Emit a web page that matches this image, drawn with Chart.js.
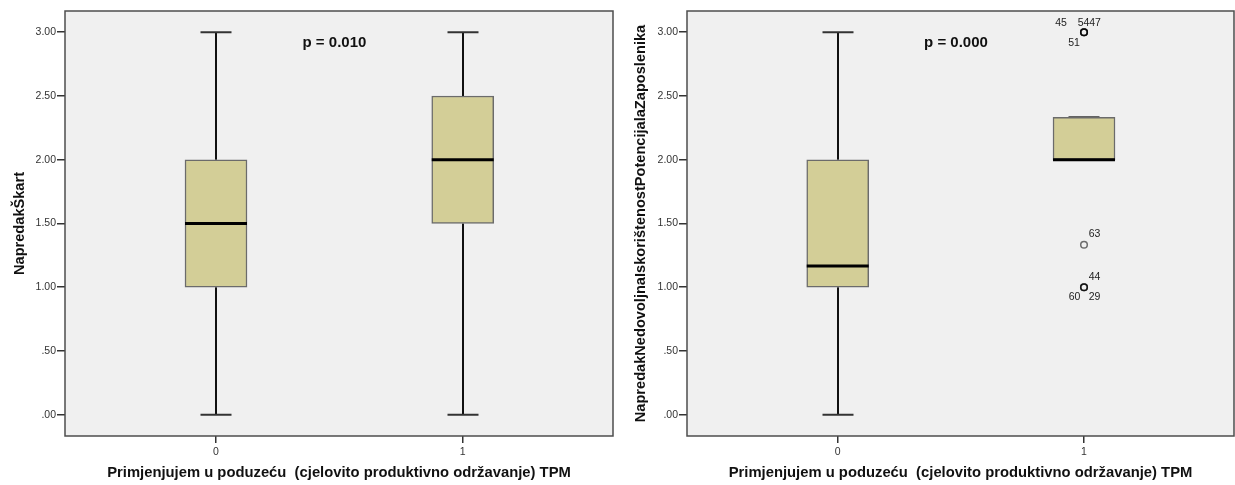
<!DOCTYPE html>
<html>
<head>
<meta charset="utf-8">
<script src="https://cdn.jsdelivr.net/npm/chart.js@4.4.0/dist/chart.umd.min.js"></script>
<style>
  html, body { margin: 0; padding: 0; background: #fff; overflow: hidden; }
  #wrap { position: relative; width: 1235px; height: 485px; }
  canvas { position: absolute; top: 0; }
  #c1 { left: 0; }
  #c2 { left: 621px; }
</style>
</head>
<body>
<div id="wrap">
  <canvas id="c1" width="620" height="485"></canvas>
  <canvas id="c2" width="614" height="485"></canvas>
</div>
<script>
// groups on the x axis
const categories = [0, 1];
const xTickLabels = ['0', '1'];
const yTickValues = [0, 0.5, 1, 1.5, 2, 2.5, 3];
const yTickLabels = ['.00', '.50', '1.00', '1.50', '2.00', '2.50', '3.00'];

const xTitle = 'Primjenjujem u poduzeću  (cjelovito produktivno održavanje) TPM';

// left chart: NapredakŠkart
const skartMin = [0, 0];
const skartQ1 = [1, 1.5];
const skartMedian = [1.5, 2];
const skartQ3 = [2, 2.5];
const skartMax = [3, 3];
const skartP = 'p = 0.010';

// right chart: NapredakNedovoljnaIskorištenostPotencijalaZaposlenika
const potMin = [0, 2];
const potQ1 = [1, 2];
const potMedian = [1.1667, 2];
const potQ3 = [2, 2.3333];
const potMax = [3, 2.3333];
const potP = 'p = 0.000';

// outlying cases (group 1)
const potOutlierCase = ['45', '54', '47', '51', '63', '44', '60', '29'];
const potOutlierGroup = [1, 1, 1, 1, 1, 1, 1, 1];
const potOutlierValue = [3, 3, 3, 3, 1.3333, 1, 1, 1];

Chart.defaults.font.family = 'Arial, "Liberation Sans", sans-serif';

// where the case numbers sit next to their circle (px)
const caseLabelOffset = {
  '45': [-23, -9.5], '54': [-0.5, -9.5], '47': [11, -9.5], '51': [-10, 10.5],
  '63': [10.5, -10.5], '44': [10.5, -10], '60': [-9.5, 10], '29': [10.5, 10]
};

const boxParts = {
  id: 'boxParts',
  beforeDraw(chart) {
    const {ctx, chartArea: a} = chart;
    ctx.save();
    ctx.fillStyle = '#f0f0f0';
    ctx.fillRect(a.left, a.top, a.width, a.height);
    ctx.restore();
  },
  beforeDatasetsDraw(chart, args, opts) {
    const {ctx, scales: {x, y}} = chart;
    const s = opts.stats;
    ctx.save();
    ctx.strokeStyle = '#111';
    ctx.lineWidth = 2;
    categories.forEach((c, i) => {
      const px = Math.round(x.getPixelForValue(c));
      const lines = [[s.max[i], s.q3[i]], [s.q1[i], s.min[i]]];
      lines.forEach(([a, b]) => {
        if (a === b) return;
        ctx.beginPath();
        ctx.moveTo(px, y.getPixelForValue(a));
        ctx.lineTo(px, y.getPixelForValue(b));
        ctx.stroke();
      });
      ctx.strokeStyle = '#333';
      [s.max[i], s.min[i]].forEach(v => {
        const py = y.getPixelForValue(v);
        ctx.beginPath();
        ctx.moveTo(px - 15.5, py);
        ctx.lineTo(px + 15.5, py);
        ctx.stroke();
      });
      ctx.strokeStyle = '#111';
    });
    ctx.restore();
  },
  afterDatasetsDraw(chart, args, opts) {
    const {ctx, scales: {x, y}} = chart;
    const s = opts.stats;
    ctx.save();
    ctx.strokeStyle = '#000';
    ctx.lineWidth = 3;
    categories.forEach((c, i) => {
      const px = x.getPixelForValue(c);
      const py = y.getPixelForValue(s.median[i]);
      ctx.beginPath();
      ctx.moveTo(px - 31, py);
      ctx.lineTo(px + 31, py);
      ctx.stroke();
    });
    ctx.restore();
  },
  afterDraw(chart, args, opts) {
    const {ctx, chartArea: a, scales: {x, y}} = chart;
    ctx.save();
    ctx.strokeStyle = '#4d4d4d';
    ctx.lineWidth = 1.5;
    ctx.strokeRect(a.left, a.top, a.width, a.height);

    ctx.fillStyle = '#111';
    ctx.font = 'bold 15px Arial, "Liberation Sans", sans-serif';
    ctx.textAlign = 'center';
    ctx.textBaseline = 'middle';
    ctx.fillText(opts.pText, x.getPixelForValue(0.48), y.getPixelForValue(2.92));

    if (opts.cases) {
      ctx.font = '10.5px Arial, "Liberation Sans", sans-serif';
      ctx.fillStyle = '#222';
      opts.cases.forEach((id, i) => {
        const off = caseLabelOffset[id] || [10, -10];
        const px = x.getPixelForValue(opts.caseGroup[i]);
        const py = y.getPixelForValue(opts.caseValue[i]);
        ctx.fillText(id, px + off[0], py + off[1]);
      });
    }
    ctx.restore();
  }
};

function makeChart(id, yTitle, stats, pText, outliers) {
  const datasets = [{
    type: 'bar',
    data: categories.map((c, i) => ({x: c, y: [stats.q1[i], stats.q3[i]]})),
    backgroundColor: '#d3ce97',
    borderColor: '#6b6b6b',
    borderWidth: 1.5,
    borderSkipped: false,
    barThickness: 62,
    grouped: false
  }];
  if (outliers) {
    datasets.push({
      type: 'scatter',
      data: outliers.cases.map((k, i) => ({x: outliers.group[i], y: outliers.value[i]})),
      pointRadius: 3.3,
      pointBorderWidth: 1.5,
      borderColor: 'rgba(0,0,0,0.55)',
      backgroundColor: 'rgba(0,0,0,0)'
    });
  }
  const tickFont = {size: 10.5};
  return new Chart(document.getElementById(id), {
    type: 'bar',
    data: {datasets: datasets},
    options: {
      responsive: false,
      animation: false,
      events: [],
      layout: {autoPadding: false, padding: {top: 11, right: id === 'c1' ? 7 : 1, left: 0, bottom: 0}},
      plugins: {
        legend: {display: false},
        tooltip: {enabled: false},
        boxParts: {
          stats: stats,
          pText: pText,
          cases: outliers ? outliers.cases : null,
          caseGroup: outliers ? outliers.group : null,
          caseValue: outliers ? outliers.value : null
        }
      },
      scales: {
        x: {
          type: 'linear',
          min: -0.612,
          max: 1.609,
          offset: false,
          afterBuildTicks: s => { s.ticks = categories.map(v => ({value: v})); },
          afterFit: s => { s.height = 49; },
          ticks: {
            callback: (v, i) => xTickLabels[i],
            font: tickFont, color: '#333', padding: 3,
            maxRotation: 0, autoSkip: false
          },
          grid: {offset: false, drawOnChartArea: false, drawTicks: true, tickLength: 7, color: '#333', lineWidth: 1.5},
          border: {display: false},
          title: {
            display: true, text: xTitle, color: '#111',
            font: {size: 14.8, weight: 'bold'},
            padding: {top: 0, bottom: 3.6}
          }
        },
        y: {
          type: 'linear',
          min: -1 / 6,
          max: 3 + 1 / 6,
          afterBuildTicks: s => { s.ticks = yTickValues.map(v => ({value: v})); },
          afterFit: s => { s.width = id === 'c1' ? 65 : 66; },
          ticks: {
            callback: (v, i) => yTickLabels[i],
            font: tickFont, color: '#333', padding: 1
          },
          grid: {drawOnChartArea: false, drawTicks: true, tickLength: 8, color: '#333', lineWidth: 1.5},
          border: {display: false},
          title: {
            display: true, text: yTitle, color: '#111',
            font: {size: 14.6, weight: 'bold'},
            padding: {top: 11.2, bottom: 0}
          }
        }
      }
    },
    plugins: [boxParts]
  });
}

makeChart('c1', 'NapredakŠkart',
  {min: skartMin, q1: skartQ1, median: skartMedian, q3: skartQ3, max: skartMax},
  skartP, null);

makeChart('c2', 'NapredakNedovoljnaIskorištenostPotencijalaZaposlenika',
  {min: potMin, q1: potQ1, median: potMedian, q3: potQ3, max: potMax},
  potP,
  {cases: potOutlierCase, group: potOutlierGroup, value: potOutlierValue});
</script>
</body>
</html>
